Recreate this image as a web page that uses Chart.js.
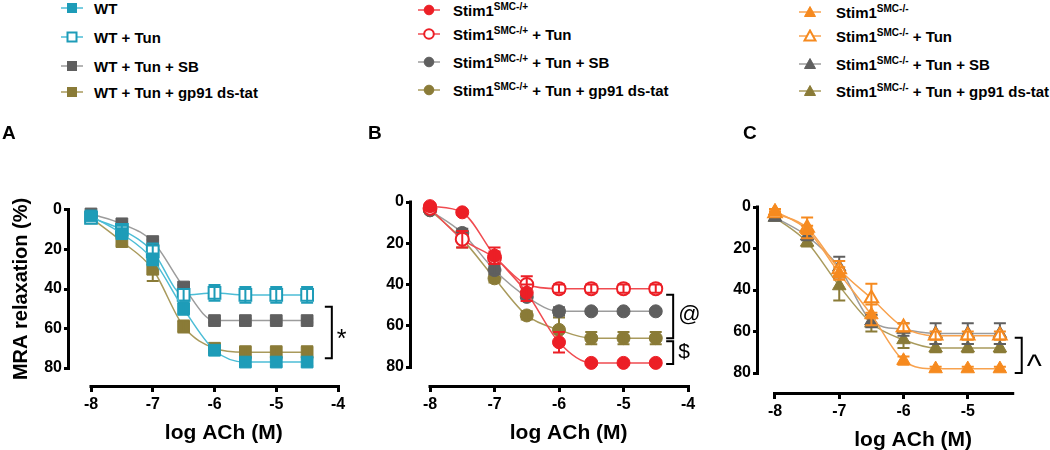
<!DOCTYPE html>
<html>
<head>
<meta charset="utf-8">
<script src="https://cdn.jsdelivr.net/npm/chart.js@4.4.1/dist/chart.umd.min.js"></script>
<style>
  body { margin: 0; background: #fff; }
  #wrap { position: relative; width: 1050px; height: 450px; overflow: hidden; font-family: "Liberation Sans", Arial, sans-serif; }
  canvas { position: absolute; }
  .lrow { position: absolute; height: 20px; display: flex; align-items: center; white-space: nowrap; font-weight: bold; font-size: 15px; color: #000; }
  .lrow sup { font-size: 10px; vertical-align: 6px; line-height: 0; }
</style>
</head>
<body>
<div id="wrap">
  <canvas id="cA" width="355" height="340" style="left:0;top:110px;width:355px;height:340px"></canvas>
  <canvas id="cB" width="345" height="340" style="left:355px;top:110px;width:345px;height:340px"></canvas>
  <canvas id="cC" width="350" height="340" style="left:700px;top:110px;width:350px;height:340px"></canvas>
</div>
<script>
// log ACh (M) doses, same for every series
var doses = [-8, -7.5, -7, -6.5, -6, -5.5, -5, -4.5];
var yTicks = [0, 20, 40, 60, 80];

// Panel A - WT
var namesA = ['WT', 'WT + Tun', 'WT + Tun + SB', 'WT + Tun + gp91 ds-tat'];
var wt      = [3, 12, 25, 50, 71, 77, 77, 77];
var wtErr   = [1, 2, 3, 3, 2, 2, 2, 2];
var wtTun   = [4, 10, 21, 43, 42, 43, 43, 43];
var wtTunErr = [1, 2, 4, 3, 4, 4, 4, 4];
var wtSb    = [2, 7, 16, 39, 56, 56, 56, 56];
var wtSbErr = [1, 1, 1, 1, 1, 1, 1, 1];
var wtGp    = [4, 16, 30, 59, 70, 72, 72, 72];
var wtGpErr = [1, 2, 6, 3, 2, 3, 3, 3];

// Panel B - Stim1 SMC-/+
var namesB = ['Stim1|SMC-/+|', 'Stim1|SMC-/+| + Tun', 'Stim1|SMC-/+| + Tun + SB', 'Stim1|SMC-/+| + Tun + gp91 ds-tat'];
var het      = [2, 5, 26, 44, 68, 78, 78, 78];
var hetErr   = [1, 1, 4, 4, 5, 1, 1, 1];
var hetTun   = [3, 18, 27, 40, 42, 42, 42, 42];
var hetTunErr = [1, 4, 3, 4, 2, 2, 2, 2];
var hetSb    = [4, 15, 33, 46, 53, 53, 53, 53];
var hetSbErr = [1, 2, 2, 2, 2, 1, 1, 1];
var hetGp    = [4, 18, 37, 55, 62, 66, 66, 66];
var hetGpErr = [1, 4, 2, 2, 6, 3, 3, 3];

// Panel C - Stim1 SMC-/-
var namesC = ['Stim1|SMC-/-|', 'Stim1|SMC-/-| + Tun', 'Stim1|SMC-/-| + Tun + SB', 'Stim1|SMC-/-| + Tun + gp91 ds-tat'];
var ko      = [2, 11, 32, 52, 74, 78, 78, 78];
var koErr   = [1, 2, 3, 5, 2, 1, 1, 1];
var koTun   = [3, 10, 30, 44, 58, 62, 62, 62];
var koTunErr = [1, 5, 4, 7, 2, 2, 2, 2];
var koSb    = [5, 14, 29, 55, 59, 61, 61, 61];
var koSbErr = [1, 2, 5, 3, 3, 5, 5, 5];
var koGp    = [5, 17, 38, 56, 64, 68, 68, 68];
var koGpErr = [1, 2, 7, 4, 4, 2, 2, 2];

var colors = {
  teal:   ['#1e9cb8', '#4cbdd6'],
  red:    ['#ec1f26', '#f04b50'],
  orange: ['#f68a1f', '#f8a24e'],
  gray:   ['#5f5f5f', '#9c9c9c'],
  olive:  ['#8a7b37', '#a99a5c']
};

var FONT = '"Liberation Sans", Arial, sans-serif';

function makeSets(names, vals, errs, hues, opens, style, radius) {
  return names.map(function(n, k) {
    var c = colors[hues[k]];
    return {
      label: n.replace(/\|/g, ' '),
      data: doses.map(function(d, i) { return { x: d, y: vals[k][i] }; }),
      err: errs[k],
      markColor: c[0],
      borderColor: c[1],
      borderWidth: 1.5,
      pointStyle: style,
      pointRadius: radius,
      pointBorderWidth: opens[k] ? 2 : 1,
      pointBorderColor: c[0],
      pointBackgroundColor: opens[k] ? '#fff' : c[0],
      cubicInterpolationMode: 'monotone',
      fill: false,
      clip: false
    };
  });
}

function decor(p) {
  return {
    id: 'decor',
    beforeDatasetsDraw: function(chart) {
      var ctx = chart.ctx, xs = chart.scales.x, ys = chart.scales.y, a = chart.chartArea;
      ctx.save();
      ctx.strokeStyle = '#000';
      ctx.lineWidth = 3;
      ctx.beginPath();
      ctx.moveTo(xs.getPixelForValue(-8) - 1.5, a.bottom + 1.5);
      ctx.lineTo(xs.getPixelForValue(p.lineEnd) + 1.5, a.bottom + 1.5);
      ctx.moveTo(a.left - 1.5, ys.getPixelForValue(0) - 1.5);
      ctx.lineTo(a.left - 1.5, ys.getPixelForValue(80) + 1.5);
      ctx.stroke();
      ctx.restore();
    },
    afterDatasetDraw: function(chart, args) {
      var ds = chart.data.datasets[args.index];
      var ys = chart.scales.y, ctx = chart.ctx;
      ctx.save();
      ctx.strokeStyle = ds.markColor;
      ctx.lineWidth = 2;
      args.meta.data.forEach(function(pt, i) {
        var e = ds.err[i];
        if (!e) return;
        var v = ds.data[i].y;
        var yt = ys.getPixelForValue(v - e), yb = ys.getPixelForValue(v + e);
        ctx.beginPath();
        ctx.moveTo(pt.x, yt); ctx.lineTo(pt.x, yb);
        ctx.moveTo(pt.x - 6, yt); ctx.lineTo(pt.x + 6, yt);
        ctx.moveTo(pt.x - 6, yb); ctx.lineTo(pt.x + 6, yb);
        ctx.stroke();
      });
      ctx.restore();
    },
    afterDraw: function(chart) {
      var ctx = chart.ctx, xs = chart.scales.x, ys = chart.scales.y, a = chart.chartArea;
      ctx.save();
      ctx.fillStyle = '#000';
      // panel letter
      ctx.font = 'bold 19px ' + FONT;
      ctx.textAlign = 'left';
      ctx.textBaseline = 'alphabetic';
      ctx.fillText(p.letter, p.letterX - p.left, 139 - p.top);
      // x title
      ctx.font = 'bold 21px ' + FONT;
      ctx.textAlign = 'center';
      ctx.textBaseline = 'middle';
      ctx.fillText('log ACh (M)', xs.getPixelForValue(-5.85), a.bottom + 48);
      // y title
      if (p.yTitle) {
        ctx.save();
        ctx.translate(21, ys.getPixelForValue(40));
        ctx.rotate(-Math.PI / 2);
        ctx.font = 'bold 20px ' + FONT;
        ctx.fillText('MRA relaxation (%)', 0, 0);
        ctx.restore();
      }
      // significance brackets
      ctx.strokeStyle = '#000';
      ctx.lineWidth = 2;
      p.brackets.forEach(function(b) {
        var x = xs.getPixelForValue(b.x), y1 = ys.getPixelForValue(b.y1), y2 = ys.getPixelForValue(b.y2);
        ctx.beginPath();
        ctx.moveTo(x - 7, y1); ctx.lineTo(x, y1); ctx.lineTo(x, y2); ctx.lineTo(x - 7, y2);
        ctx.stroke();
        ctx.font = b.size + 'px ' + FONT;
        ctx.textAlign = 'left';
        ctx.textBaseline = 'alphabetic';
        ctx.fillText(b.text, x + 5, (y1 + y2) / 2 + b.dy);
      });
      ctx.restore();
    }
  };
}

function buildPanel(p, sets) {
  var pxX = (p.xb - p.xa) / 4;
  var pxY = (p.y80 - p.y0) / 80;
  var caLeft = p.ax - p.left;
  var caRight = p.xa + (p.xMax + 8) * pxX - p.left;
  var caBottom = p.ay - p.top;
  var caTop = p.y0 - 8 * pxY - p.top;
  var yAxisW = 50, xAxisH = 40;
  var tickFont = { family: FONT, size: 16, weight: 'bold' };
  var canvas = document.getElementById(p.id);
  return new Chart(canvas.getContext('2d'), {
    type: 'line',
    data: { datasets: sets },
    options: {
      responsive: false,
      animation: false,
      events: [],
      layout: { padding: { left: caLeft - yAxisW, right: p.width - caRight, top: caTop, bottom: p.height - caBottom - xAxisH } },
      plugins: { legend: { display: false }, tooltip: { enabled: false } },
      scales: {
        x: {
          type: 'linear',
          min: -8 - (p.xa - p.ax) / pxX,
          max: p.xMax,
          afterBuildTicks: function(s) { s.ticks = p.xTicks.map(function(v) { return { value: v }; }); },
          afterFit: function(s) { s.height = xAxisH; },
          border: { display: false },
          grid: { drawOnChartArea: false, drawTicks: true, tickLength: 7, color: '#000', lineWidth: 3 },
          ticks: { color: '#000', font: tickFont, padding: 3, maxRotation: 0, autoSkip: false }
        },
        y: {
          type: 'linear',
          reverse: true,
          min: -8,
          max: 80 + (p.ay - p.y80) / pxY,
          afterBuildTicks: function(s) { s.ticks = yTicks.map(function(v) { return { value: v }; }); },
          afterFit: function(s) { s.width = yAxisW; },
          border: { display: false },
          grid: { drawOnChartArea: false, drawTicks: true, tickLength: 6, color: '#000', lineWidth: 3 },
          ticks: { color: '#000', font: tickFont, padding: 2 }
        }
      }
    },
    plugins: [decor(p)]
  });
}

var panelA = { id: 'cA', left: 0, top: 110, width: 355, height: 340,
  ax: 70, xa: 91, xb: 338, y0: 210, y80: 368, ay: 385,
  xMax: -4, lineEnd: -4, xTicks: [-8, -7, -6, -5, -4],
  letter: 'A', letterX: 2, yTitle: true,
  brackets: [{ x: -4.1, y1: 49, y2: 75, text: '*', size: 25, dy: 15 }] };
var panelB = { id: 'cB', left: 355, top: 110, width: 345, height: 340,
  ax: 412, xa: 430, xb: 688, y0: 202, y80: 367, ay: 385,
  xMax: -4, lineEnd: -4, xTicks: [-8, -7, -6, -5, -4],
  letter: 'B', letterX: 368, yTitle: false,
  brackets: [{ x: -4.23, y1: 45, y2: 66, text: '@', size: 22, dy: 5 },
             { x: -4.23, y1: 67.5, y2: 78.5, text: '$', size: 21, dy: 5 }] };
var panelC = { id: 'cC', left: 700, top: 110, width: 350, height: 340,
  ax: 759, xa: 775, xb: 1032, y0: 207, y80: 373, ay: 392,
  xMax: -4.3, lineEnd: -4.3, xTicks: [-8, -7, -6, -5],
  letter: 'C', letterX: 743, yTitle: false,
  brackets: [{ x: -4.16, y1: 63, y2: 80, text: '^', size: 32, dy: 21 }] };

var opens = [false, true, false, false];
var setsA = makeSets(namesA, [wt, wtTun, wtSb, wtGp], [wtErr, wtTunErr, wtSbErr, wtGpErr], ['teal', 'teal', 'gray', 'olive'], opens, 'rect', 8.3);
var setsB = makeSets(namesB, [het, hetTun, hetSb, hetGp], [hetErr, hetTunErr, hetSbErr, hetGpErr], ['red', 'red', 'gray', 'olive'], opens, 'circle', 6.5);
var setsC = makeSets(namesC, [ko, koTun, koSb, koGp], [koErr, koTunErr, koSbErr, koGpErr], ['orange', 'orange', 'gray', 'olive'], opens, 'triangle', 7.8);

buildPanel(panelA, setsA);
buildPanel(panelB, setsB);
buildPanel(panelC, setsC);

// HTML legends (superscripts need real markup)
function markerSvg(ds) {
  var c = ds.markColor, fill = ds.pointBackgroundColor, sw = ds.pointBorderWidth > 1 ? 2 : 1;
  var shape;
  if (ds.pointStyle === 'rect') shape = '<rect x="7.5" y="2.5" width="9" height="9" fill="' + fill + '" stroke="' + c + '" stroke-width="' + sw + '"/>';
  else if (ds.pointStyle === 'circle') shape = '<circle cx="12" cy="7" r="4.8" fill="' + fill + '" stroke="' + c + '" stroke-width="' + sw + '"/>';
  else shape = '<polygon points="12,1.5 17.5,11.5 6.5,11.5" fill="' + fill + '" stroke="' + c + '" stroke-width="' + sw + '"/>';
  return '<svg width="24" height="14"><line x1="1" y1="7" x2="23" y2="7" stroke="' + ds.borderColor + '" stroke-width="1.5"/>' + shape + '</svg>';
}

function addLegend(names, sets, markerX, textX, rows) {
  var wrap = document.getElementById('wrap');
  names.forEach(function(n, k) {
    var parts = n.split('|');
    var txt = parts.length > 1 ? parts[0] + '<sup>' + parts[1] + '</sup>' + parts[2] : n;
    var div = document.createElement('div');
    div.className = 'lrow';
    div.style.left = (markerX - 12) + 'px';
    div.style.top = (rows[k] - 10) + 'px';
    div.innerHTML = markerSvg(sets[k]) + '<span style="margin-left:' + (textX - markerX - 12) + 'px">' + txt + '</span>';
    wrap.appendChild(div);
  });
}

addLegend(namesA, setsA, 72, 94, [8, 37, 66, 92]);
addLegend(namesB, setsB, 429, 453, [10, 34, 62, 90]);
addLegend(namesC, setsC, 810, 836, [12, 36, 64, 91]);
</script>
</body>
</html>
